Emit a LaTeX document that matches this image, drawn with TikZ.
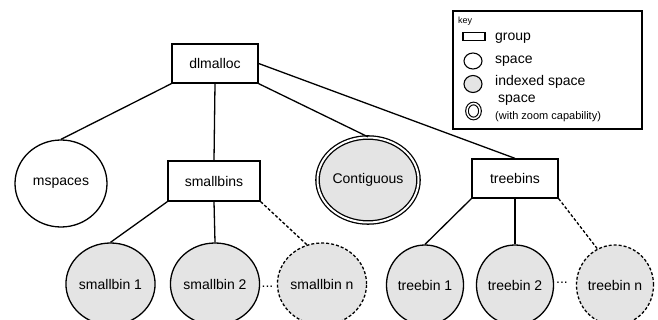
\documentclass[tikz,border=0pt]{standalone}
\usepackage{fontspec}
\setmainfont{Liberation Sans}
\usetikzlibrary{shapes.geometric}
\definecolor{binfill}{RGB}{228,228,228}
\begin{document}
\begin{tikzpicture}[x=1pt,y=-1pt,
  every node/.style={font=\fontsize{14}{16}\selectfont},
  groupbox/.style={draw, rectangle, line width=1.3pt, minimum height=39pt, inner sep=0pt},
  space/.style={draw, ellipse, line width=1.3pt, inner sep=0pt},
  indexed/.style={space, fill=binfill},
  zoomable/.style={indexed, double=white, double distance=2pt},
  dashedspace/.style={indexed, dash pattern=on 3pt off 2pt},
  link/.style={line width=1.3pt},
  dlink/.style={link, dash pattern=on 3pt off 2pt},
  keytext/.style={anchor=west, inner sep=0pt},
  keyicon/.style={line width=1.1pt, inner sep=0pt},
]
\useasboundingbox (0,0) rectangle (658,320);

% groups
\node[groupbox, minimum width=86pt] (dl) at (215,63.5) {dlmalloc};
\node[groupbox, minimum width=92pt, minimum height=40pt] (sb) at (214,181) {smallbins};
\node[groupbox, minimum width=86pt] (tb) at (515,178.5) {treebins};

% spaces
\node[space, minimum width=92pt, minimum height=87pt] (ms) at (61,183.5) {mspaces};
\node[zoomable, minimum width=101pt, minimum height=85pt] (ct) at (368,180) {Contiguous};

\node[indexed, minimum width=86pt, minimum height=82pt] (sb1) at (110.5,284) {smallbin 1};
\node[indexed, minimum width=86pt, minimum height=82pt] (sb2) at (215,284) {smallbin 2};
\node[dashedspace, minimum width=86pt, minimum height=82pt] (sbn) at (322,284) {smallbin n};

\node[indexed, minimum width=76pt, minimum height=80pt] (tb1) at (425,285) {treebin 1};
\node[indexed, minimum width=76pt, minimum height=80pt] (tb2) at (515,285) {treebin 2};
\node[dashedspace, minimum width=72pt, minimum height=80pt] (tbn) at (615,285) {treebin n};

\node[inner sep=0pt] (dots1) at (267.5,286.5) {...};
\node[inner sep=0pt] (dots2) at (562,283) {...};

% connectors
\draw[link] (dl.south west) -- (ms.north);
\draw[link] (dl.south) -- (sb.north);
\draw[link] (dl.south east) -- (ct.north);
\draw[link] (dl.east) -- (tb.north);

\draw[link] (sb.south west) -- (sb1.north);
\draw[link] (sb.south) -- (sb2.north);
\draw[dlink] (sb.south east) -- (sbn.111);

\draw[link] (tb.south west) -- (tb1.north);
\draw[link] (tb.south) -- (tb2.north);
\draw[dlink] (tb.south east) -- (tbn.116);

% key
\node[draw, rectangle, line width=1.3pt, minimum width=189pt, minimum height=118pt, inner sep=0pt] (key) at (547.5,70) {};
\node[keytext, font=\fontsize{9}{10}\selectfont] (keylbl) at (458,21) {key};
\node[keyicon, draw, rectangle, minimum width=22pt, minimum height=8pt] (kg) at (474,36.5) {};
\node[keytext] (kgt) at (495,38) {group};
\node[keyicon, draw, ellipse, minimum width=18pt, minimum height=16pt] (ks) at (473,61) {};
\node[keytext] (kst) at (495,61) {space};
\node[keyicon, draw, ellipse, fill=binfill, minimum width=18pt, minimum height=17pt] (ki) at (473,84) {};
\node[keytext] (kit) at (495,82) {indexed space};
\node[keyicon, draw, ellipse, double=white, double distance=1.5pt, minimum width=13pt, minimum height=15pt] (kz) at (473.5,111) {};
\node[keytext] (kzt) at (498,100) {space};
\node[keytext, font=\fontsize{11}{12}\selectfont] (kzn) at (495,117) {(with zoom capability)};
\end{tikzpicture}
\end{document}
